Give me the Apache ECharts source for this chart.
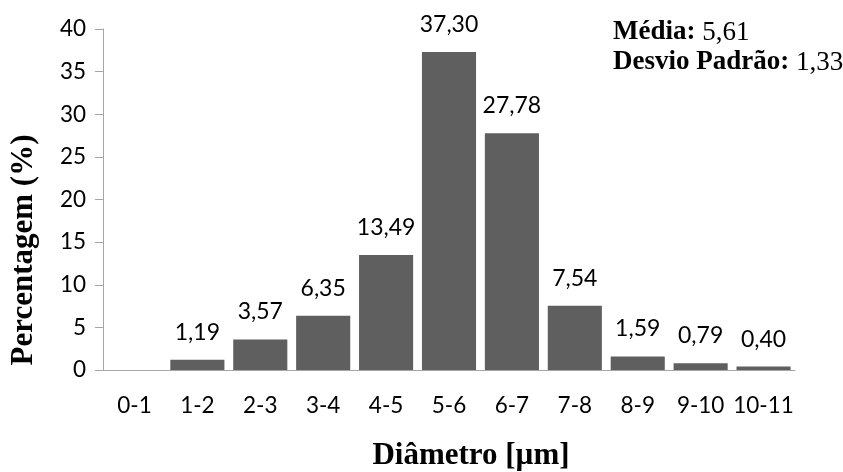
<!DOCTYPE html>
<html><head><meta charset="utf-8">
<script src="https://cdn.jsdelivr.net/npm/echarts@6/dist/echarts.min.js"></script>
<style>html,body{margin:0;padding:0;background:#fff}#c{width:843px;height:472px}</style>
</head><body><div id="c"></div>
<script>
const categories = ['0-1','1-2','2-3','3-4','4-5','5-6','6-7','7-8','8-9','9-10','10-11'];
const values = [0, 1.19, 3.57, 6.35, 13.49, 37.30, 27.78, 7.54, 1.59, 0.79, 0.40];
const yTicks = {min: 0, max: 40, interval: 5};
const stats = {media: '5,61', desvio: '1,33'};
const xTitle = 'Diâmetro [µm]';
const yTitle = 'Percentagem (%)';

const chart = echarts.init(document.getElementById('c'));
const sans = 'Lato';
const serifTitle = {fontFamily: 'Liberation Serif', fontWeight: 'bold', fontSize: 31, fill: '#000', align: 'center', verticalAlign: 'middle'};
chart.setOption({
  animation: false,
  grid: {left: 103, right: 48, top: 29, bottom: 102},
  xAxis: {
    type: 'category', data: categories,
    axisLine: {lineStyle: {color: '#a6a6a6', width: 1}},
    axisTick: {show: false},
    axisLabel: {color: '#000', fontFamily: sans, fontSize: 22.5, margin: 24, interval: 0}
  },
  yAxis: {
    type: 'value', min: yTicks.min, max: yTicks.max, interval: yTicks.interval,
    splitLine: {show: false},
    axisLine: {show: true, lineStyle: {color: '#a6a6a6', width: 1}},
    axisTick: {show: true, length: 8, lineStyle: {color: '#a6a6a6'}},
    axisLabel: {color: '#000', fontFamily: sans, fontSize: 22.5, margin: 17}
  },
  series: [{
    type: 'bar', data: values, barCategoryGap: '14%',
    itemStyle: {color: '#5f5f5f'},
    label: {
      show: true, position: 'top', distance: 16,
      fontFamily: sans, fontSize: 23, color: '#000',
      formatter: p => p.value === 0 ? '' : p.value.toFixed(2).replace('.', ',')
    }
  }],
  graphic: [
    {type: 'text', x: 471, y: 456, style: Object.assign({text: xTitle}, serifTitle)},
    {type: 'text', x: 24, y: 250, rotation: Math.PI / 2, style: Object.assign({text: yTitle}, serifTitle)},
    {
      type: 'text', left: 613, top: 19,
      style: {
        text: '{b|Média: }{r|' + stats.media + '}\n{b|Desvio Padrão: }{r|' + stats.desvio + '}',
        rich: {
          b: {fontFamily: 'Liberation Serif', fontWeight: 'bold', fontSize: 27, lineHeight: 30, fill: '#000'},
          r: {fontFamily: 'Liberation Serif', fontSize: 27, lineHeight: 30, fill: '#000'}
        }
      }
    }
  ]
});
</script></body></html>
